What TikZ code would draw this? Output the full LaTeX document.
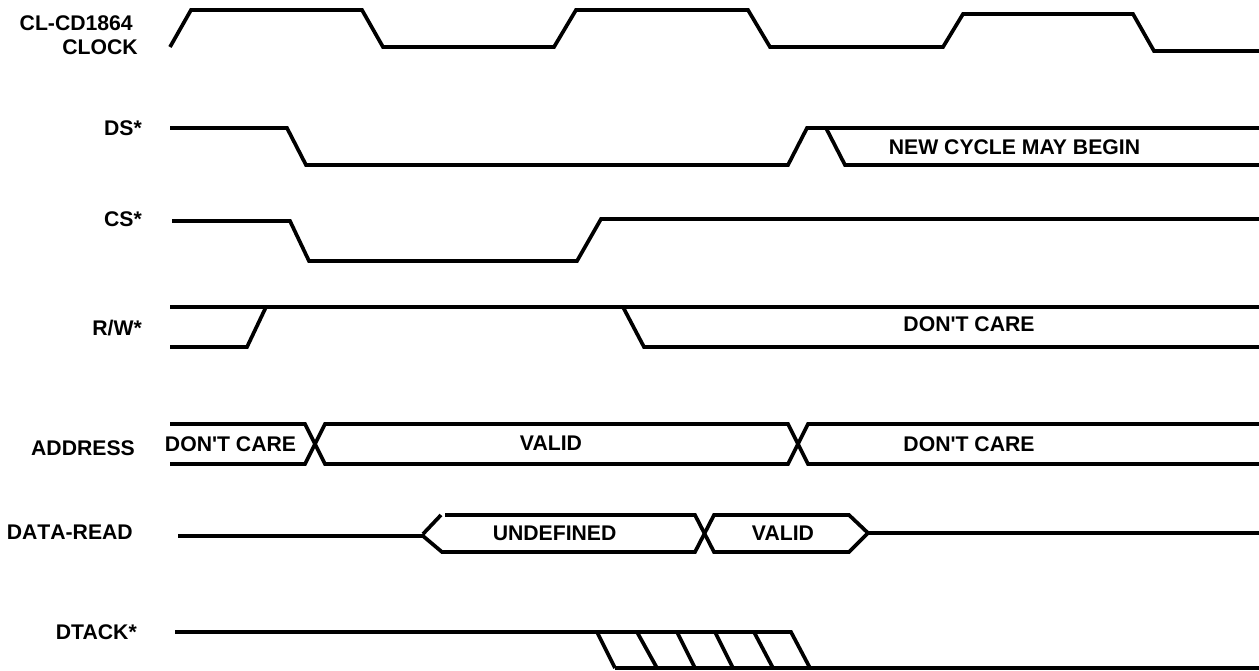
\documentclass[tikz,border=0pt]{standalone}
\usepackage{fontspec}
\setmainfont{Liberation Sans}
\usepackage{xcolor}

\tikzset{
  wave/.style={black,line width=3.7pt,line join=miter},
  lbl/.style={font=\fontsize{21.2}{21.2}\selectfont\bfseries,inner sep=0pt,anchor=east},
  txt/.style={font=\fontsize{21.2}{21.2}\selectfont\bfseries,inner sep=0pt},
}

\begin{document}
\begin{tikzpicture}[x=1pt,y=-1pt]
    \useasboundingbox (0,0) rectangle (1259,670);

    % clock
    \draw[wave] (170,47) -- (191,10) -- (362,10) -- (383,47) -- (554,47) -- (576,10)
                -- (748,10) -- (770,47) -- (943,47) -- (963,14) -- (1133,14)
                -- (1154,51) -- (1259,51);
    \node[lbl] (clocka) at (133,23) {CL-CD1864};
    \node[lbl] (clockb) at (138,47) {CLOCK};

    % ds
    \draw[wave] (170,128) -- (287,128) -- (306,165) -- (788,165) -- (807,128) -- (1259,128);
    \draw[wave] (826,128) -- (845,165) -- (1259,165);
    \node[lbl] (ds) at (142,128) {DS*};
    \node[txt] (newcycle) at (1014.5,147) {NEW CYCLE MAY BEGIN};

    % cs
    \draw[wave] (172,221) -- (290,221) -- (309,261) -- (577,261) -- (601,219) -- (1259,219);
    \node[lbl] (cs) at (142,219) {CS*};

    % rw
    \draw[wave] (170,347) -- (247,347) -- (266,307);
    \draw[wave] (170,307) -- (1259,307);
    \draw[wave] (623,307) -- (644,347) -- (1259,347);
    \node[lbl] (rw) at (142,328) {R/W*};
    \node[txt] (rwcare) at (969,324) {DON\textquotesingle T CARE};

    % address
    \draw[wave] (170,424) -- (305,424) -- (325,464) -- (788,464) -- (808,424) -- (1259,424);
    \draw[wave] (170,464) -- (305,464) -- (325,424) -- (788,424) -- (808,464) -- (1259,464);
    \node[lbl] (address) at (135,448) {ADDRESS};
    \node[txt] (addra) at (230.5,444) {DON\textquotesingle T CARE};
    \node[txt] (addrb) at (551,443) {VALID};
    \node[txt] (addrc) at (969,444) {DON\textquotesingle T CARE};

    % data
    \draw[wave] (178,536) -- (423,536) -- (442,552) -- (695,552) -- (714,515) -- (849,515)
                -- (868,533) -- (1259,533);
    \draw[wave] (423,534) -- (441,515);
    \draw[wave] (445,515) -- (695,515) -- (714,552) -- (849,552) -- (868,533);
    \node[lbl,font=\fontsize{21.2}{21.2}\selectfont\bfseries\addfontfeature{Kerning=Off}] (dataread) at (133,532) {DATA-READ};
    \node[txt] (undef) at (554.6,533) {UNDEFINED};
    \node[txt] (datavalid) at (783,533) {VALID};

    % dtack
    \draw[wave] (175,632) -- (791,632) -- (810,668) -- (1259,668);
    \draw[wave] (615,668) -- (810,668);
    \draw[wave] (597,632) -- (615,668);
    \draw[wave] (637,632) -- (657,668);
    \draw[wave] (677,632) -- (695,668);
    \draw[wave] (715,632) -- (733,668);
    \draw[wave] (754,632) -- (773,668);
    \node[lbl] (dtack) at (137,632) {DTACK*};
\end{tikzpicture}
\end{document}
